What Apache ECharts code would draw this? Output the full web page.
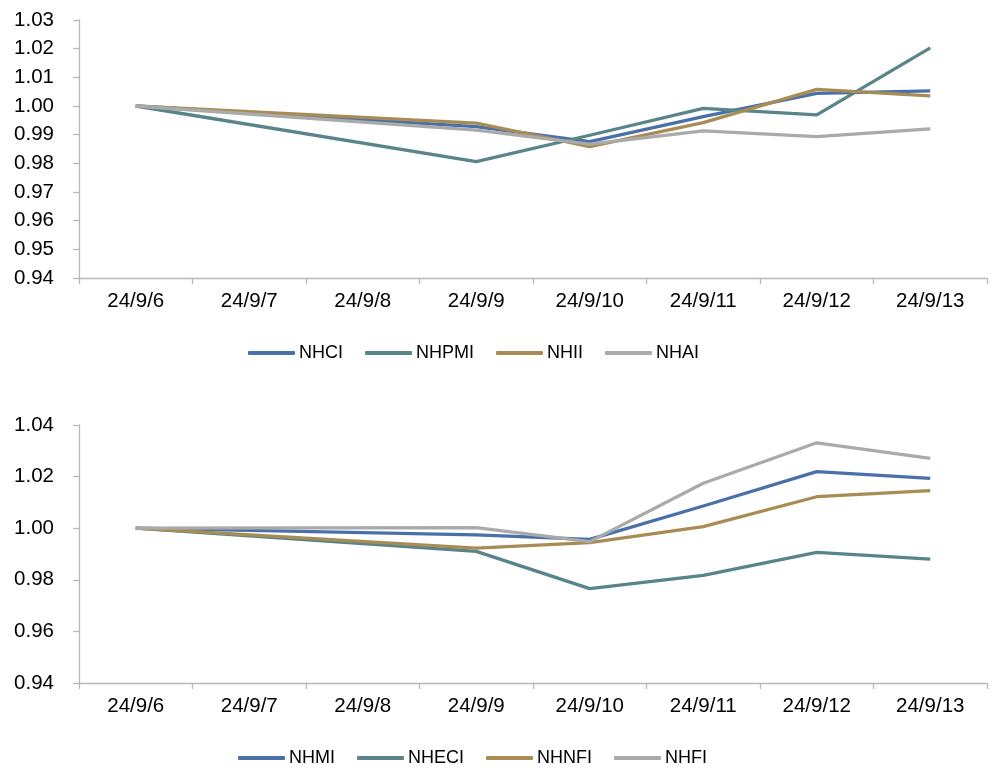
<!DOCTYPE html>
<html><head><meta charset="utf-8">
<script src="https://cdn.jsdelivr.net/npm/echarts@6/dist/echarts.min.js"></script>
<style>html,body{margin:0;padding:0;background:#fff}#c{width:992px;height:769px}</style>
</head><body><div id="c"></div>
<script>
const categories = ['24/9/6','24/9/7','24/9/8','24/9/9','24/9/10','24/9/11','24/9/12','24/9/13'];
const topNames = ['NHCI','NHPMI','NHII','NHAI'];
const NHCI  = [1.0000, null, null, 0.9928, 0.9876, 0.9963, 1.0044, 1.0053];
const NHPMI = [1.0000, null, null, 0.9806, 0.9898, 0.9992, 0.9969, 1.0203];
const NHII  = [1.0000, null, null, 0.9940, 0.9858, 0.9942, 1.0058, 1.0035];
const NHAI  = [1.0000, null, null, 0.9916, 0.9867, 0.9913, 0.9893, 0.9920];
const bottomNames = ['NHMI','NHECI','NHNFI','NHFI'];
const NHMI  = [1.0000, null, null, 0.9974, 0.9957, 1.0086, 1.0219, 1.0193];
const NHECI = [1.0000, null, null, 0.9910, 0.9766, 0.9817, 0.9906, 0.9880];
const NHNFI = [1.0000, null, null, 0.9923, 0.9944, 1.0006, 1.0122, 1.0146];
const NHFI  = [1.0000, null, null, 1.0002, 0.9948, 1.0174, 1.0331, 1.0271];
const colors = ['#4a70aa', '#598489', '#a88c56', '#aaaaaa'];

const font = 'Liberation Sans, Arial, sans-serif';
const axisLineStyle = {color: '#b8b8b8', width: 1.3};
function xAx(gi) {
  return {type: 'category', gridIndex: gi, data: categories, boundaryGap: true,
    axisLine: {lineStyle: axisLineStyle}, axisTick: {show: true, length: 6, alignWithLabel: false, lineStyle: axisLineStyle},
    axisLabel: {color: '#000', fontSize: 20.5, fontFamily: font, margin: 13, interval: 0},
    splitLine: {show: false}};
}
function yAx(gi, min, max, interval) {
  return {type: 'value', gridIndex: gi, min: min, max: max, interval: interval,
    axisLine: {show: true, lineStyle: axisLineStyle}, axisTick: {show: true, length: 6, lineStyle: axisLineStyle},
    axisLabel: {color: '#000', fontSize: 20.5, fontFamily: font, margin: 25, formatter: v => v.toFixed(2)},
    splitLine: {show: false}};
}
function ser(name, data, ci, gi) {
  return {name: name, type: 'line', xAxisIndex: gi, yAxisIndex: gi, data: data, connectNulls: true,
    symbol: 'none', lineStyle: {width: 3.3, color: colors[ci]}, itemStyle: {color: colors[ci]}};
}
function leg(names, left, top) {
  return {data: names, left: left, top: top, orient: 'horizontal', icon: 'roundRect', itemWidth: 47, itemHeight: 4,
    itemGap: 22, textStyle: {color: '#000', fontSize: 18, fontFamily: font, padding: [0, 0, 0, -1]}};
}
const chart = echarts.init(document.getElementById('c'));
chart.setOption({
  animation: false,
  backgroundColor: '#fff',
  grid: [
    {left: 79, right: 5, top: 20, height: 258},
    {left: 79, right: 5, top: 425, height: 258}
  ],
  xAxis: [xAx(0), xAx(1)],
  yAxis: [yAx(0, 0.94, 1.03, 0.01), yAx(1, 0.94, 1.04, 0.02)],
  legend: [leg(topNames, 243, 339), leg(bottomNames, 233, 744)],
  series: [
    ser('NHCI', NHCI, 0, 0), ser('NHPMI', NHPMI, 1, 0), ser('NHII', NHII, 2, 0), ser('NHAI', NHAI, 3, 0),
    ser('NHMI', NHMI, 0, 1), ser('NHECI', NHECI, 1, 1), ser('NHNFI', NHNFI, 2, 1), ser('NHFI', NHFI, 3, 1)
  ]
});
</script></body></html>
